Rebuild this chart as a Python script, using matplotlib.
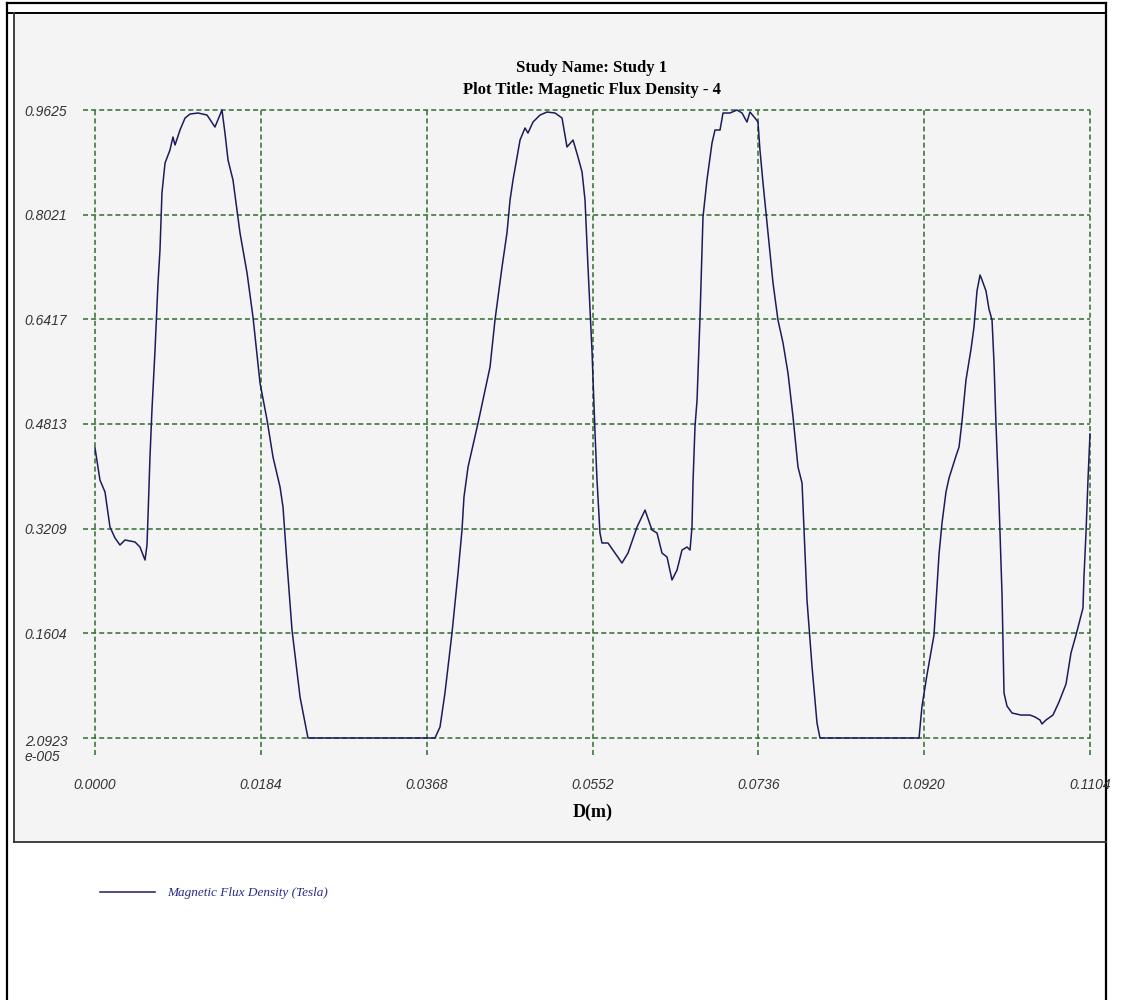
import numpy as np
import matplotlib.pyplot as plt
from matplotlib.lines import Line2D
from matplotlib.patches import Rectangle
from matplotlib.transforms import ScaledTranslation

# chart data (D in metres, B in Tesla)
ymin = 2.0923e-005
d_m = [0.00000, 0.00055, 0.00111, 0.00166, 0.00222, 0.00277, 0.00333, 0.00444, 0.00499, 0.00555,
       0.00577, 0.00588, 0.00610, 0.00632, 0.00666, 0.00699, 0.00721, 0.00743, 0.00777, 0.00832,
       0.00865, 0.00888, 0.00943, 0.00999, 0.01054, 0.01143, 0.01243, 0.01331, 0.01409, 0.01442,
       0.01476, 0.01531, 0.01609, 0.01687, 0.01753, 0.01831, 0.01909, 0.01975, 0.02053, 0.02086,
       0.02130, 0.02186, 0.02275, 0.02363, 0.03772, 0.03828, 0.03883, 0.03961, 0.04028, 0.04072,
       0.04094, 0.04139, 0.04250, 0.04383, 0.04438, 0.04516, 0.04571, 0.04605, 0.04638, 0.04716,
       0.04771, 0.04804, 0.04860, 0.04938, 0.05015, 0.05104, 0.05182, 0.05237, 0.05304, 0.05359,
       0.05404, 0.05437, 0.05470, 0.05514, 0.05548, 0.05570, 0.05603, 0.05625, 0.05692, 0.05770,
       0.05847, 0.05914, 0.06014, 0.06103, 0.06180, 0.06236, 0.06291, 0.06347, 0.06402, 0.06458,
       0.06513, 0.06569, 0.06602, 0.06624, 0.06635, 0.06657, 0.06680, 0.06713, 0.06746, 0.06790,
       0.06846, 0.06879, 0.06935, 0.06968, 0.07046, 0.07123, 0.07179, 0.07234, 0.07267, 0.07323,
       0.07356, 0.07378, 0.07412, 0.07467, 0.07523, 0.07578, 0.07634, 0.07689, 0.07745, 0.07800,
       0.07845, 0.07900, 0.07956, 0.08011, 0.08044, 0.09143, 0.09176, 0.09231, 0.09309, 0.09365,
       0.09398, 0.09442, 0.09476, 0.09553, 0.09587, 0.09620, 0.09664, 0.09720, 0.09753, 0.09786,
       0.09820, 0.09842, 0.09886, 0.09919, 0.09953, 0.09975, 0.09997, 0.10030, 0.10064, 0.10086,
       0.10119, 0.10175, 0.10274, 0.10374, 0.10430, 0.10485, 0.10507, 0.10552, 0.10629, 0.10696,
       0.10774, 0.10829, 0.10885, 0.10962, 0.10973, 0.10996, 0.11018, 0.11040]
b_tesla = [0.4445, 0.3954, 0.3770, 0.3234, 0.3065, 0.2958, 0.3035, 0.3004, 0.2927, 0.2728,
           0.2958, 0.3387, 0.4307, 0.5027, 0.5947, 0.6973, 0.7479, 0.8353, 0.8812, 0.9012,
           0.9211, 0.9088, 0.9318, 0.9502, 0.9563, 0.9579, 0.9548, 0.9364, 0.9625, 0.9272,
           0.8858, 0.8552, 0.7740, 0.7127, 0.6452, 0.5441, 0.4874, 0.4307, 0.3847, 0.3540,
           0.2682, 0.1655, 0.0628, ymin, ymin, 0.0169, 0.0690, 0.1609, 0.2529, 0.3188,
           0.3694, 0.4153, 0.4828, 0.5686, 0.6406, 0.7219, 0.7740, 0.8245, 0.8552, 0.9165,
           0.9349, 0.9272, 0.9441, 0.9548, 0.9594, 0.9579, 0.9502, 0.9058, 0.9165, 0.8904,
           0.8675, 0.8245, 0.7219, 0.5947, 0.4674, 0.3954, 0.3142, 0.2989, 0.2989, 0.2835,
           0.2682, 0.2835, 0.3234, 0.3494, 0.3188, 0.3142, 0.2835, 0.2774, 0.2422, 0.2575,
           0.2881, 0.2927, 0.2881, 0.3234, 0.3908, 0.4766, 0.5180, 0.6452, 0.7985, 0.8552,
           0.9119, 0.9318, 0.9318, 0.9579, 0.9579, 0.9625, 0.9579, 0.9441, 0.9594, 0.9502,
           0.9441, 0.9012, 0.8506, 0.7740, 0.6973, 0.6406, 0.6054, 0.5594, 0.4920, 0.4153,
           0.3908, 0.2115, 0.1088, 0.0230, ymin, ymin, 0.0490, 0.0966, 0.1579, 0.2820,
           0.3295, 0.3770, 0.3985, 0.4322, 0.4460, 0.4858, 0.5487, 0.5962, 0.6299, 0.6851,
           0.7096, 0.7019, 0.6851, 0.6575, 0.6406, 0.5747, 0.4797, 0.3632, 0.2192, 0.0690,
           0.0490, 0.0383, 0.0352, 0.0352, 0.0322, 0.0276, 0.0215, 0.0276, 0.0352, 0.0552,
           0.0828, 0.1303, 0.1579, 0.1992, 0.2467, 0.3157, 0.3969, 0.4659]

xticks = [0.0, 0.0184, 0.0368, 0.0552, 0.0736, 0.0920, 0.1104]
xtick_labels = ["0.0000", "0.0184", "0.0368", "0.0552", "0.0736", "0.0920", "0.1104"]
yticks = [ymin, 0.1604, 0.3209, 0.4813, 0.6417, 0.8021, 0.9625]
ytick_labels = ["2.0923\ne-005", "0.1604", "0.3209", "0.4813", "0.6417", "0.8021", "0.9625"]

W, H = 1124, 1000
panel = '#f4f4f4'
grid_col = '#2e6b2e'
line_col = '#1c1c5c'

fig = plt.figure(figsize=(W/100, H/100), dpi=100, facecolor='white')

# frame work around the plot (pixel positions -> figure fractions)
def fx(px): return px / W
def fy(py): return 1 - py / H

fig.patches.append(Rectangle((fx(14), fy(842)), fx(1106) - fx(14), fy(14) - fy(842),
                             transform=fig.transFigure, facecolor=panel, edgecolor='none', zorder=-5))
for xs, ys, c, lw in [([7, 7], [3, 1000], 'black', 1.6),          # outer frame left
                      ([7, 1106], [3, 3], 'black', 1.6),          # outer frame top
                      ([1106, 1106], [3, 1000], 'black', 1.6),    # outer frame right
                      ([7, 1106], [13, 13], 'black', 1.4),        # top strip
                      ([14, 14], [13, 842], '#333333', 1.3),      # panel left
                      ([14, 1106], [842, 842], '#333333', 1.3)]:  # panel bottom
    fig.lines.append(Line2D([fx(v) for v in xs], [fy(v) for v in ys],
                            transform=fig.transFigure, color=c, lw=lw, zorder=-4))

ax = fig.add_axes([fx(95), fy(738), fx(1090) - fx(95), fy(110) - fy(738)])
ax.set_facecolor(panel)
for s in ax.spines.values():
    s.set_visible(False)

ax.set_xlim(0, 0.1104)
ax.set_ylim(ymin, 0.9625)

# dashed green grid, poking out a little past the left and bottom edges
dash = (0, (3.3, 2.0))
ax.vlines(xticks, -0.027, 1, transform=ax.get_xaxis_transform(), colors=grid_col,
          linestyles=dash, lw=1.1, clip_on=False, zorder=1)
ax.hlines(yticks, -0.012, 1, transform=ax.get_yaxis_transform(), colors=grid_col,
          linestyles=dash, lw=1.1, clip_on=False, zorder=1)

ax.plot(d_m, b_tesla, color=line_col, lw=1.1, zorder=3, label='Magnetic Flux Density (Tesla)',
        clip_on=False)

ax.set_xticks(xticks)
ax.set_xticklabels(xtick_labels)
ax.set_yticks(yticks)
ax.set_yticklabels(ytick_labels)
ax.tick_params(axis='both', length=0, colors='#333333')
ax.tick_params(axis='x', pad=29)
ax.tick_params(axis='y', pad=20)
for lab in ax.get_xticklabels() + ax.get_yticklabels():
    lab.set_family('Liberation Sans')
    lab.set_style('italic')
    lab.set_fontsize(10)
# the bottom y label is two lines, its first line sits on the axis
bl = ax.get_yticklabels()[0]
bl.set_transform(bl.get_transform() + ScaledTranslation(0, -9/100, fig.dpi_scale_trans))
bl.set_linespacing(1.15)
bl.set_multialignment('left')

ax.set_xlabel('D(m)', family='Liberation Serif', weight='bold', fontsize=13, labelpad=8)

fig.text(fx(592), fy(68), 'Study Name: Study 1', ha='center', va='center',
         family='Liberation Serif', weight='bold', fontsize=12)
fig.text(fx(592), fy(90), 'Plot Title: Magnetic Flux Density - 4', ha='center', va='center',
         family='Liberation Serif', weight='bold', fontsize=12)

leg = ax.legend(loc='center left', bbox_to_anchor=(fx(88), fy(893)),
                bbox_transform=fig.transFigure, frameon=False, handlelength=4.2,
                handletextpad=0.9, prop={'family': 'Liberation Serif', 'style': 'italic', 'size': 9.5},
                labelcolor='#2a2a8a')

fig.savefig('out.png', dpi=100, facecolor='white')
